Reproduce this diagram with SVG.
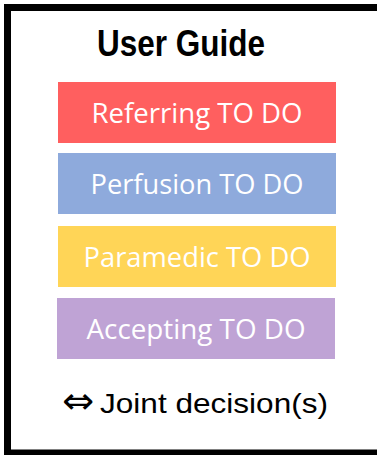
<svg xmlns="http://www.w3.org/2000/svg" width="377" height="455" viewBox="0 0 377 455">
<style>
.box{stroke:none}
.lbl{font-family:"Open Sans","Noto Sans",sans-serif;font-size:28px;fill:#ffffff;text-anchor:middle}
.title{font-family:"Liberation Sans",Arial,sans-serif;font-weight:bold;font-size:37px;fill:#000}
.legend{font-family:"Liberation Sans",Arial,sans-serif;font-size:28px;fill:#000}
</style>
<rect id="frame" x="7.5" y="7.5" width="400" height="445.5" fill="#ffffff" stroke="#000000" stroke-width="7"/>
<g id="title"><text class="title" x="97" y="56" textLength="168" lengthAdjust="spacingAndGlyphs">User Guide</text></g>
<g id="referring"><rect class="box" x="58" y="82" width="278" height="61" fill="#FF5F5F"/><text class="lbl" x="197" y="123" textLength="211" lengthAdjust="spacingAndGlyphs">Referring TO DO</text></g>
<g id="perfusion"><rect class="box" x="58" y="153" width="278" height="61" fill="#8EAADC"/><text class="lbl" x="197" y="194" textLength="213" lengthAdjust="spacingAndGlyphs">Perfusion TO DO</text></g>
<g id="paramedic"><rect class="box" x="58" y="226" width="278" height="61" fill="#FFD557"/><text class="lbl" x="197" y="267" textLength="227" lengthAdjust="spacingAndGlyphs">Paramedic TO DO</text></g>
<g id="accepting"><rect class="box" x="57" y="298" width="278" height="61" fill="#BFA3D5"/><text class="lbl" x="196" y="339" textLength="219" lengthAdjust="spacingAndGlyphs">Accepting TO DO</text></g>
<g id="connectors"></g>
<g id="legend"><text class="legend" y="413"><tspan x="62" font-family="DejaVu Sans,sans-serif" font-size="36" textLength="32" lengthAdjust="spacingAndGlyphs">⇔</tspan><tspan x="100" textLength="228" lengthAdjust="spacingAndGlyphs">Joint decision(s)</tspan></text></g>
</svg>
